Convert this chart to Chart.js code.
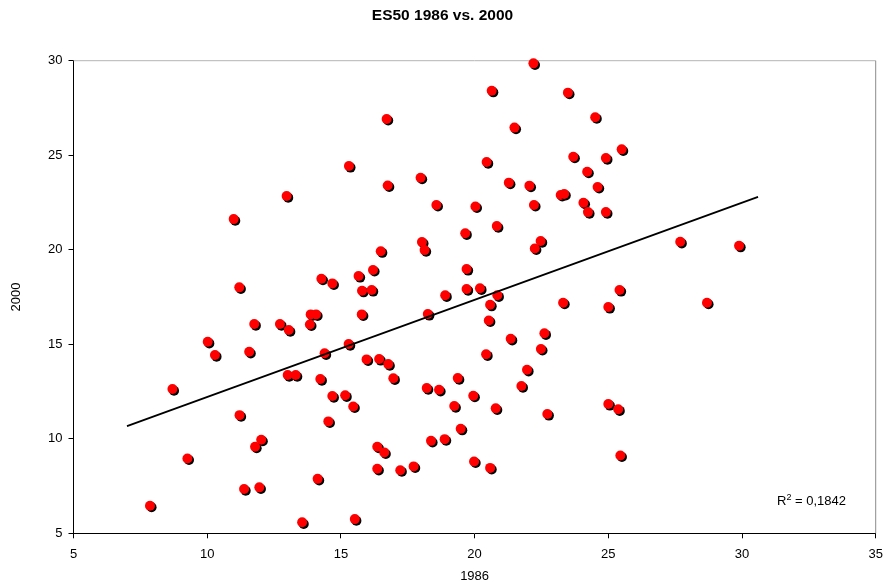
<meta charset="UTF-8">
<style>
    html, body { margin: 0; padding: 0; background: #fff; }
    #wrap { width: 885px; height: 587px; }
</style>

<div id="wrap"><canvas id="myChart"></canvas></div>

<script src="https://cdn.jsdelivr.net/npm/chart.js@4"></script>

<script>
    // values: 1986 (x) vs 2000 (y)
    var x1986 = [
        16.71, 15.30, 16.75, 12.97, 10.99, 16.49, 16.20, 14.27, 14.68, 15.66,
        11.20, 15.79, 16.15, 13.87, 14.07, 15.78, 11.76, 12.72, 13.05, 13.84,
        10.02, 10.29, 11.57, 15.29, 14.39, 15.96, 16.43, 16.77, 16.96, 13.01,
        13.31, 14.23, 8.70, 14.68, 15.16, 15.46, 11.21, 14.53, 12.02, 11.79,
        16.36, 16.62, 9.26, 16.36, 17.22, 14.13, 11.38, 11.95, 7.86, 13.55,
        15.52, 22.20, 20.64, 23.49, 24.51, 21.49, 25.50, 23.69, 24.91, 20.45,
        24.21, 17.98, 24.60, 21.28, 22.05, 23.22, 23.35, 24.07, 24.24, 24.91,
        18.57, 20.03, 22.22, 20.83, 19.65, 18.03, 18.13, 22.47, 22.25, 27.69,
        19.70, 18.90, 19.70, 20.20, 20.85, 25.42, 23.31, 20.58, 18.25, 20.53,
        25.00, 22.61, 21.35, 22.48, 20.43, 21.96, 19.37, 21.75, 18.21, 18.67,
        19.95, 19.24, 20.79, 22.72, 25.00, 25.37, 19.48, 18.37, 18.88, 25.45,
        17.72, 19.98, 20.58, 29.89, 28.69
    ];
    var y2000 = [
        26.92, 24.43, 23.40, 22.84, 21.62, 19.92, 18.93, 18.47, 18.22, 18.61,
        18.01, 17.83, 17.87, 16.58, 16.58, 16.58, 16.07, 16.07, 15.75, 16.05,
        15.13, 14.43, 14.60, 15.01, 14.52, 14.20, 14.22, 13.95, 13.20, 13.37,
        13.37, 13.16, 12.63, 12.26, 12.30, 11.71, 11.25, 10.92, 9.95, 9.58,
        9.58, 9.28, 8.96, 8.41, 8.34, 7.88, 7.34, 7.43, 6.46, 5.58,
        5.75, 29.86, 28.41, 28.31, 27.01, 26.46, 25.31, 24.92, 24.85, 24.64,
        24.13, 23.81, 23.32, 23.55, 23.39, 22.90, 22.95, 22.49, 21.99, 21.99,
        22.37, 22.29, 22.37, 21.25, 20.87, 20.41, 19.98, 20.46, 20.07, 20.42,
        18.98, 17.59, 17.92, 17.96, 17.59, 17.87, 17.20, 17.09, 16.60, 16.26,
        16.97, 15.58, 15.29, 14.75, 14.47, 13.65, 13.21, 12.79, 12.68, 12.59,
        12.28, 11.73, 11.61, 11.31, 11.84, 11.56, 10.53, 9.89, 9.98, 9.12,
        8.54, 8.80, 8.46, 20.21, 17.20
    ];

    // trend line ends as drawn in the picture
    var trendX = [7.0, 30.6];
    var trendY = [10.67, 22.80];

    var xTicks = [5, 10, 15, 20, 25, 30, 35];
    var yTicks = [5, 10, 15, 20, 25, 30];

    var rSquared = '0,1842';

    var FONT = '"Liberation Sans", Arial, sans-serif';

    var points = x1986.map(function (x, i) { return {x: x, y: y2000[i]}; });
    var trend = trendX.map(function (x, i) { return {x: x, y: trendY[i]}; });

    // black drop shadow under the red markers
    var shadowPlugin = {
        id: 'shadow',
        beforeDatasetDraw: function (chart, args) {
            if (args.index !== 1) return;
            var ctx = chart.ctx;
            ctx.save();
            ctx.shadowColor = '#000';
            ctx.shadowOffsetX = 1.6;
            ctx.shadowOffsetY = 1.6;
            ctx.shadowBlur = 0;
        },
        afterDatasetDraw: function (chart, args) {
            if (args.index !== 1) return;
            chart.ctx.restore();
        }
    };

    // grey frame on top and right, plus the R² label
    var framePlugin = {
        id: 'frame',
        beforeDatasetsDraw: function (chart) {
            var ctx = chart.ctx, a = chart.chartArea;
            ctx.save();
            ctx.lineWidth = 1;
            ctx.strokeStyle = '#b4b4b4';
            ctx.beginPath();
            ctx.moveTo(a.left, a.top);
            ctx.lineTo(a.right, a.top);
            ctx.stroke();
            ctx.strokeStyle = '#8c8c8c';
            ctx.beginPath();
            ctx.moveTo(a.right, a.top);
            ctx.lineTo(a.right, a.bottom);
            ctx.stroke();
            ctx.restore();
        },
        afterDraw: function (chart) {
            var ctx = chart.ctx, a = chart.chartArea;
            var x = a.right - 98.7, y = a.bottom - 28.5;
            ctx.save();
            ctx.fillStyle = '#000';
            ctx.textBaseline = 'alphabetic';
            ctx.textAlign = 'left';
            ctx.font = '13px ' + FONT;
            ctx.fillText('R', x, y);
            x += ctx.measureText('R').width;
            ctx.font = '9px ' + FONT;
            ctx.fillText('2', x, y - 5);
            x += ctx.measureText('2').width;
            ctx.font = '13px ' + FONT;
            ctx.fillText(' = ' + rSquared, x, y);
            ctx.restore();
        }
    };

    var ctx = document.getElementById('myChart').getContext('2d');
    var chart = new Chart(ctx, {
        type: 'scatter',
        data: {
            datasets: [
                {
                    type: 'line',
                    data: trend,
                    borderColor: '#000',
                    borderWidth: 1.8,
                    pointRadius: 0,
                    fill: false,
                    order: 0
                },
                {
                    data: points,
                    backgroundColor: '#ff0000',
                    borderColor: '#ff0000',
                    borderWidth: 0,
                    pointRadius: 5,
                    clip: false,
                    order: 1
                }
            ]
        },
        options: {
            responsive: true,
            maintainAspectRatio: false,
            animation: false,
            layout: { padding: { left: 0, right: 0, top: 0, bottom: 0 } },
            plugins: {
                legend: { display: false },
                tooltip: { enabled: false },
                title: {
                    display: true,
                    text: 'ES50 1986 vs. 2000',
                    color: '#000',
                    font: { family: FONT, size: 15.5, weight: 'bold' },
                    padding: { top: 6, bottom: 36.1 }
                }
            },
            scales: {
                x: {
                    type: 'linear',
                    min: 5,
                    max: 35,
                    afterBuildTicks: function (s) { s.ticks = xTicks.map(function (v) { return {value: v}; }); },
                    afterFit: function (s) {
                        s.height = 53.7;
                        s.paddingLeft = 0;
                        s.paddingRight = 9.3;
                    },
                    grid: { display: true, drawOnChartArea: false, color: '#000', tickLength: 5 },
                    border: { display: true, color: '#000', width: 1 },
                    ticks: { color: '#000', padding: 8, maxRotation: 0, font: { family: FONT, size: 13 } },
                    title: {
                        display: true,
                        text: '1986',
                        color: '#000',
                        font: { family: FONT, size: 13 },
                        padding: { top: 0, bottom: 3 }
                    }
                },
                y: {
                    type: 'linear',
                    min: 5,
                    max: 30,
                    afterBuildTicks: function (s) { s.ticks = yTicks.map(function (v) { return {value: v}; }); },
                    afterFit: function (s) { s.width = 73.5; },
                    grid: { display: true, drawOnChartArea: false, color: '#000', tickLength: 5 },
                    border: { display: true, color: '#000', width: 1 },
                    ticks: { color: '#000', padding: 6, font: { family: FONT, size: 13 } },
                    title: {
                        display: true,
                        text: '2000',
                        color: '#000',
                        font: { family: FONT, size: 13 },
                        padding: { top: 9, bottom: 0 }
                    }
                }
            }
        },
        plugins: [shadowPlugin, framePlugin]
    });
</script>
